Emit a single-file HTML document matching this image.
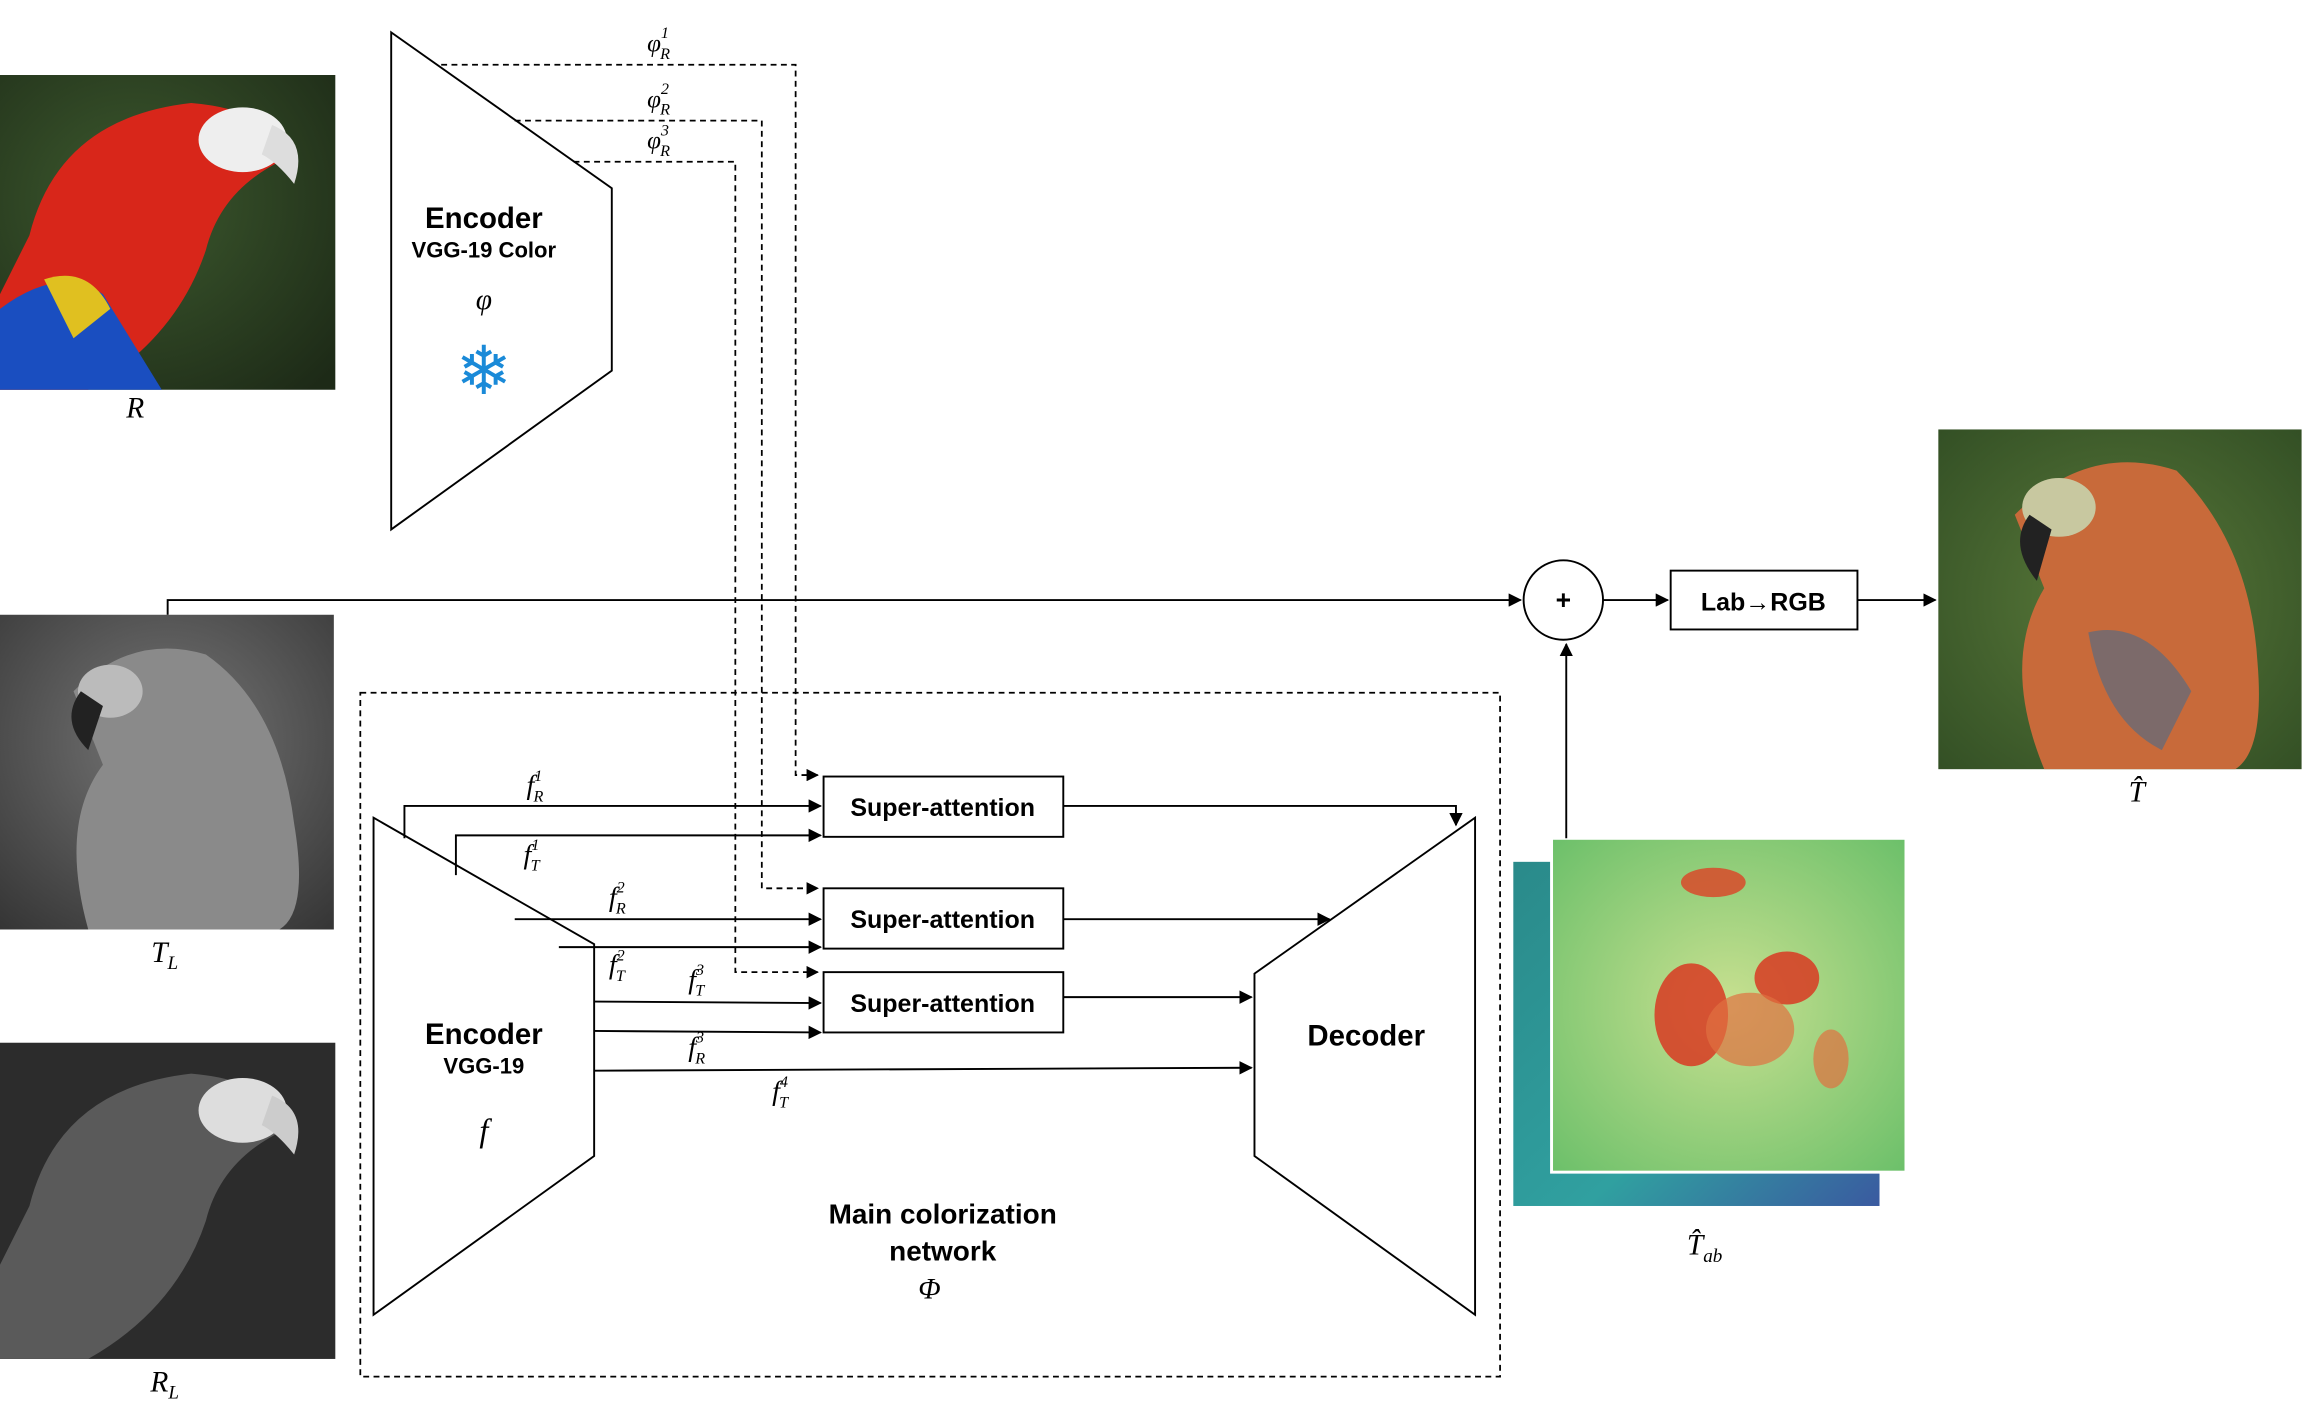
<!DOCTYPE html>
<html><head><meta charset="utf-8"><style>
html,body{margin:0;padding:0;background:#fff;}
svg{display:block;}
text{font-family:"Liberation Sans",sans-serif;fill:#000;}
.m{font-family:"Liberation Serif",serif;font-style:italic;}
</style></head><body>
<svg width="2306" height="1406" viewBox="0 0 1568 956" preserveAspectRatio="none">
<defs>
<marker id="ar" viewBox="0 0 10 10" refX="9" refY="5" markerWidth="7" markerHeight="7" orient="auto"><path d="M0,0L10,5L0,10z" fill="#000"/></marker>
<radialGradient id="parrotBg" cx="0.4" cy="0.4" r="0.8"><stop offset="0" stop-color="#3d5a2e"/><stop offset="1" stop-color="#1d2a17"/></radialGradient>
<radialGradient id="grayBg" cx="0.5" cy="0.4" r="0.8"><stop offset="0" stop-color="#777"/><stop offset="1" stop-color="#333"/></radialGradient>
<radialGradient id="outBg" cx="0.5" cy="0.5" r="0.8"><stop offset="0" stop-color="#5a7a3a"/><stop offset="1" stop-color="#2e4a22"/></radialGradient>
<linearGradient id="heatBack" x1="0" y1="0" x2="1" y2="1"><stop offset="0" stop-color="#2a8a8a"/><stop offset="0.6" stop-color="#30a0a0"/><stop offset="1" stop-color="#3a5aa0"/></linearGradient>
<radialGradient id="heatFront" cx="0.5" cy="0.5" r="0.7"><stop offset="0" stop-color="#c8e090"/><stop offset="1" stop-color="#6cc06a"/></radialGradient>
</defs>

<!-- R image -->
<g>
<rect x="0" y="51" width="228" height="214" fill="url(#parrotBg)"/>
<path d="M20,160 Q40,80 130,70 Q190,75 190,110 Q150,130 140,170 Q120,230 60,265 L0,265 L0,200 Z" fill="#d8261a"/>
<ellipse cx="165" cy="95" rx="30" ry="22" fill="#eee"/>
<path d="M185,85 Q210,95 200,125 Q188,110 178,105 Z" fill="#ddd"/>
<path d="M0,210 Q40,180 70,200 L110,265 L0,265 Z" fill="#1a4ec0"/>
<path d="M30,190 Q60,180 75,210 L50,230 Z" fill="#e0c020"/>
</g>
<text x="92" y="284" class="m" font-size="20" text-anchor="middle">R</text>

<!-- Top encoder -->
<polygon points="266,22 416,128 416,252 266,360" fill="#fff" stroke="#000" stroke-width="1.3"/>
<text x="329" y="155" font-size="20" font-weight="bold" text-anchor="middle">Encoder</text>
<text x="329" y="175" font-size="15" font-weight="bold" text-anchor="middle">VGG-19 Color</text>
<text x="329" y="210" class="m" font-size="20" text-anchor="middle">φ</text>
<text x="329" y="268" font-size="46" fill="#1a8ad8" text-anchor="middle" style="fill:#1a8ad8">❄</text>

<!-- Dashed phi lines -->
<g fill="none" stroke="#000" stroke-width="1.2" stroke-dasharray="4,3">
<polyline points="300,44 541,44 541,527 556,527" marker-end="url(#ar)"/>
<polyline points="350,82 518,82 518,604 556,604" marker-end="url(#ar)"/>
<polyline points="390,110 500,110 500,661 556,661" marker-end="url(#ar)"/>
</g>
<text x="440" y="35" class="m" font-size="17">φ<tspan font-size="11" dy="-9">1</tspan><tspan font-size="11" dx="-6" dy="14">R</tspan></text>
<text x="440" y="73" class="m" font-size="17">φ<tspan font-size="11" dy="-9">2</tspan><tspan font-size="11" dx="-6" dy="14">R</tspan></text>
<text x="440" y="101" class="m" font-size="17">φ<tspan font-size="11" dy="-9">3</tspan><tspan font-size="11" dx="-6" dy="14">R</tspan></text>

<!-- T_L image -->
<g>
<rect x="0" y="418" width="227" height="214" fill="url(#grayBg)"/>
<path d="M50,470 Q90,430 140,445 Q190,480 200,560 Q210,620 190,632 L60,632 Q40,560 70,520 Z" fill="#8a8a8a"/>
<ellipse cx="75" cy="470" rx="22" ry="18" fill="#bbb"/>
<path d="M55,470 Q40,490 60,510 L70,480 Z" fill="#222"/>
</g>
<text x="112" y="654" class="m" font-size="20" text-anchor="middle">T<tspan font-size="13" dy="5">L</tspan></text>

<!-- R_L image -->
<g>
<rect x="0" y="709" width="228" height="215" fill="#2c2c2c"/>
<path d="M20,820 Q40,740 130,730 Q190,735 190,770 Q150,790 140,830 Q120,890 60,924 L0,924 L0,860 Z" fill="#5a5a5a"/>
<ellipse cx="165" cy="755" rx="30" ry="22" fill="#ddd"/>
<path d="M185,745 Q210,755 200,785 Q188,770 178,765 Z" fill="#ccc"/>
</g>
<text x="112" y="946" class="m" font-size="20" text-anchor="middle">R<tspan font-size="13" dy="5">L</tspan></text>

<!-- Top path to plus -->
<polyline points="114,418 114,408 1034,408" fill="none" stroke="#000" stroke-width="1.3" marker-end="url(#ar)"/>
<circle cx="1063" cy="408" r="27" fill="#fff" stroke="#000" stroke-width="1.3"/>
<text x="1063" y="414" font-size="18" font-weight="bold" text-anchor="middle">+</text>
<line x1="1090" y1="408" x2="1134" y2="408" stroke="#000" stroke-width="1.3" marker-end="url(#ar)"/>
<rect x="1136" y="388" width="127" height="40" fill="#fff" stroke="#000" stroke-width="1.3"/>
<text x="1199" y="415" font-size="17" font-weight="bold" text-anchor="middle">Lab→RGB</text>
<line x1="1263" y1="408" x2="1316" y2="408" stroke="#000" stroke-width="1.3" marker-end="url(#ar)"/>

<!-- Output image -->
<g>
<rect x="1318" y="292" width="247" height="231" fill="url(#outBg)"/>
<path d="M1370,350 Q1420,300 1480,320 Q1530,370 1535,450 Q1540,510 1520,523 L1390,523 Q1360,450 1390,400 Z" fill="#c86a3a"/>
<ellipse cx="1400" cy="345" rx="25" ry="20" fill="#c8c8a0"/>
<path d="M1380,350 Q1365,370 1385,395 L1395,360 Z" fill="#222"/>
<path d="M1420,430 Q1460,420 1490,470 L1470,510 Q1430,490 1420,430 Z" fill="#4a6a8a" opacity="0.6"/>
</g>
<text x="1453" y="545" class="m" font-size="20" text-anchor="middle">T̂</text>

<!-- Main network dashed box -->
<rect x="245" y="471" width="775" height="465" fill="none" stroke="#000" stroke-width="1.2" stroke-dasharray="4,3"/>

<!-- Lower encoder -->
<polygon points="254,556 404,642 404,786 254,894" fill="#fff" stroke="#000" stroke-width="1.3"/>
<text x="329" y="710" font-size="20" font-weight="bold" text-anchor="middle">Encoder</text>
<text x="329" y="730" font-size="15" font-weight="bold" text-anchor="middle">VGG-19</text>
<text x="329" y="776" class="m" font-size="22" text-anchor="middle">f</text>

<!-- Feature lines -->
<g fill="none" stroke="#000" stroke-width="1.3">
<polyline points="275,570 275,548 558,548" marker-end="url(#ar)"/>
<polyline points="310,595 310,568 558,568" marker-end="url(#ar)"/>
<line x1="350" y1="625" x2="558" y2="625" marker-end="url(#ar)"/>
<line x1="380" y1="644" x2="558" y2="644" marker-end="url(#ar)"/>
<line x1="404" y1="681" x2="558" y2="682" marker-end="url(#ar)"/>
<line x1="404" y1="701" x2="558" y2="702" marker-end="url(#ar)"/>
<line x1="404" y1="728" x2="851" y2="726" marker-end="url(#ar)"/>
<polyline points="723,548 990,548 990,561" marker-end="url(#ar)"/>
<line x1="723" y1="625" x2="904" y2="625" marker-end="url(#ar)"/>
<line x1="723" y1="678" x2="851" y2="678" marker-end="url(#ar)"/>
</g>
<text x="358" y="540" class="m" font-size="19">f<tspan font-size="11" dy="-9">1</tspan><tspan font-size="11" dx="-6" dy="14">R</tspan></text>
<text x="356" y="587" class="m" font-size="19">f<tspan font-size="11" dy="-9">1</tspan><tspan font-size="11" dx="-6" dy="14">T</tspan></text>
<text x="414" y="616" class="m" font-size="19">f<tspan font-size="11" dy="-9">2</tspan><tspan font-size="11" dx="-6" dy="14">R</tspan></text>
<text x="414" y="662" class="m" font-size="19">f<tspan font-size="11" dy="-9">2</tspan><tspan font-size="11" dx="-6" dy="14">T</tspan></text>
<text x="468" y="672" class="m" font-size="19">f<tspan font-size="11" dy="-9">3</tspan><tspan font-size="11" dx="-6" dy="14">T</tspan></text>
<text x="468" y="718" class="m" font-size="19">f<tspan font-size="11" dy="-9">3</tspan><tspan font-size="11" dx="-6" dy="14">R</tspan></text>
<text x="525" y="748" class="m" font-size="19">f<tspan font-size="11" dy="-9">4</tspan><tspan font-size="11" dx="-6" dy="14">T</tspan></text>

<!-- Super-attention boxes -->
<rect x="560" y="528" width="163" height="41" fill="#fff" stroke="#000" stroke-width="1.3"/>
<text x="641" y="555" font-size="17" font-weight="bold" text-anchor="middle">Super-attention</text>
<rect x="560" y="604" width="163" height="41" fill="#fff" stroke="#000" stroke-width="1.3"/>
<text x="641" y="631" font-size="17" font-weight="bold" text-anchor="middle">Super-attention</text>
<rect x="560" y="661" width="163" height="41" fill="#fff" stroke="#000" stroke-width="1.3"/>
<text x="641" y="688" font-size="17" font-weight="bold" text-anchor="middle">Super-attention</text>

<!-- Decoder -->
<polygon points="853,662 1003,556 1003,894 853,786" fill="#fff" stroke="#000" stroke-width="1.3"/>
<text x="929" y="711" font-size="20" font-weight="bold" text-anchor="middle">Decoder</text>

<text x="641" y="832" font-size="19" font-weight="bold" text-anchor="middle">Main colorization</text>
<text x="641" y="857" font-size="19" font-weight="bold" text-anchor="middle">network</text>
<text x="632" y="883" class="m" font-size="20" text-anchor="middle">Φ</text>

<!-- Heatmaps -->
<g>
<rect x="1029" y="586" width="249" height="234" fill="url(#heatBack)"/>
<rect x="1055" y="570" width="241" height="227" fill="url(#heatFront)" stroke="#fff" stroke-width="2"/>
<ellipse cx="1165" cy="600" rx="22" ry="10" fill="#d84a2a" opacity="0.85"/>
<ellipse cx="1150" cy="690" rx="25" ry="35" fill="#d83a22" opacity="0.85"/>
<ellipse cx="1215" cy="665" rx="22" ry="18" fill="#d83a22" opacity="0.85"/>
<ellipse cx="1190" cy="700" rx="30" ry="25" fill="#e07040" opacity="0.7"/>
<ellipse cx="1245" cy="720" rx="12" ry="20" fill="#e07040" opacity="0.7"/>
</g>
<line x1="1065" y1="570" x2="1065" y2="438" stroke="#000" stroke-width="1.3" marker-end="url(#ar)"/>
<text x="1147" y="853" class="m" font-size="20">T̂<tspan font-size="13" dy="5">ab</tspan></text>
</svg>
</body></html>
